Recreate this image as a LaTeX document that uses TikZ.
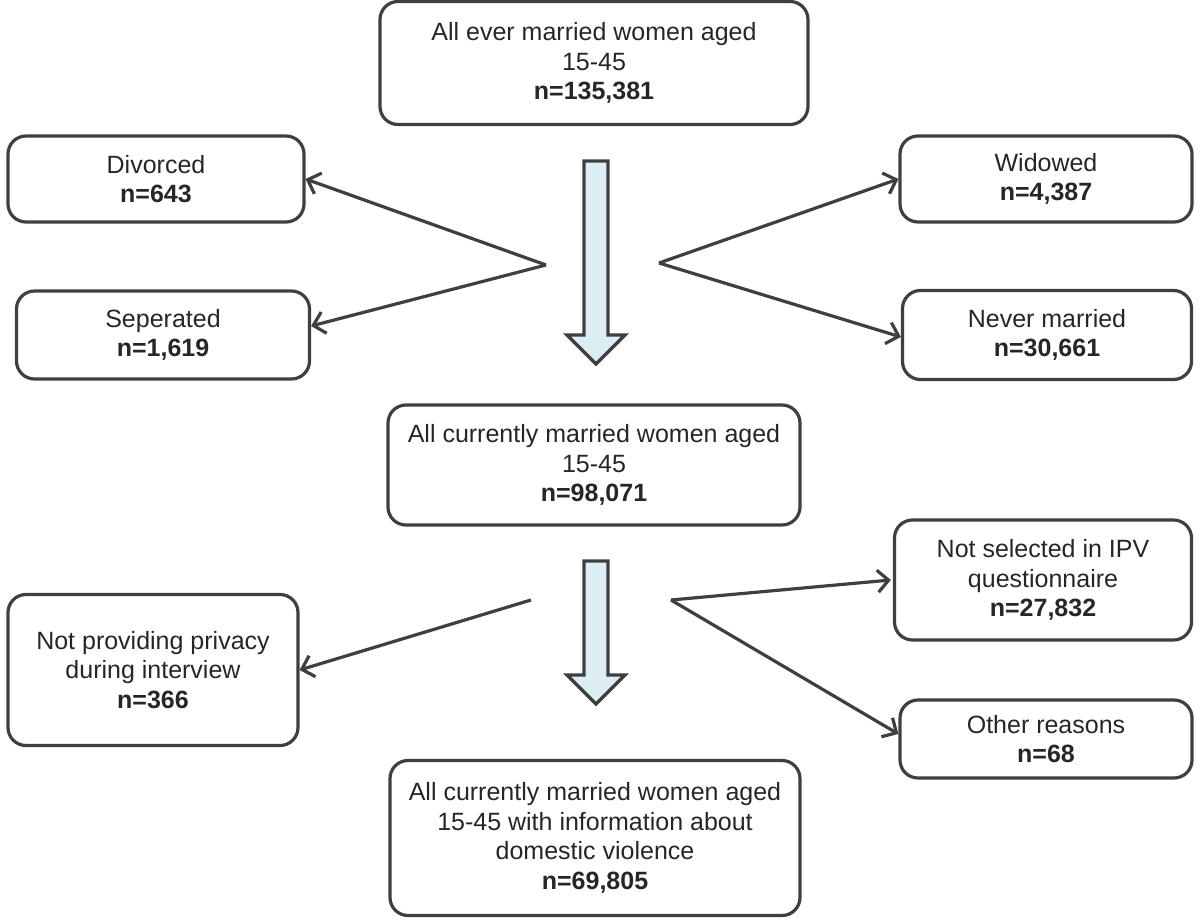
\documentclass[tikz,border=0pt]{standalone}
\usepackage{fontspec}
\setmainfont{Liberation Sans}
\usetikzlibrary{arrows.meta,calc}
\definecolor{ln}{HTML}{3F3F3F}
\definecolor{blk}{HTML}{DCEDF4}
\tikzset{
  box/.style={draw=ln, line width=3.2pt, rounded corners=18pt, align=center,
    font=\fontsize{25}{29.5}\selectfont, text=black!85, inner sep=0pt},
  conn/.style={draw=ln, line width=3.2pt, -{Straight Barb[length=11pt,width=22pt]}},
  bigarrow/.style={draw=ln, line width=3.2pt, fill=blk, line join=miter}
}
\begin{document}
\begin{tikzpicture}[x=1pt,y=-1pt]
\useasboundingbox (0,0) rectangle (1200,920);
\node[box, minimum width=428pt, minimum height=123pt] (top) at (594,63)
  {All ever married women aged\\15-45\\\textbf{n=135,381}};
\node[box, minimum width=296pt, minimum height=86pt] (div) at (156,179)
  {Divorced\\\textbf{n=643}};
\node[box, minimum width=292pt, minimum height=86pt] (wid) at (1046,179)
  {Widowed\\\textbf{n=4,387}};
\node[box, minimum width=293pt, minimum height=88pt] (sep) at (163,335)
  {Seperated\\\textbf{n=1,619}};
\node[box, minimum width=289pt, minimum height=89pt] (nev) at (1047,335)
  {Never married\\\textbf{n=30,661}};
\node[box, minimum width=412pt, minimum height=120pt] (mid) at (594,465)
  {All currently married women aged\\15-45\\\textbf{n=98,071}};
\node[box, minimum width=290pt, minimum height=151pt] (priv) at (153,670)
  {Not providing privacy\\during interview\\\textbf{n=366}};
\node[box, minimum width=297pt, minimum height=120pt] (sel) at (1043,580)
  {Not selected in IPV\\questionnaire\\\textbf{n=27,832}};
\node[box, minimum width=292pt, minimum height=78pt] (oth) at (1046,739)
  {Other reasons\\\textbf{n=68}};
\node[box, minimum width=410pt, minimum height=155pt] (bot) at (595,838)
  {All currently married women aged\\15-45 with information about\\domestic violence\\\textbf{n=69,805}};

% block arrows
\draw[bigarrow] (584,161) -- (608,161) -- (608,335) -- (625,335) -- (596,364) -- (567,335) -- (584,335) -- cycle;
\draw[bigarrow] (584,561) -- (608,561) -- (608,675) -- (625,675) -- (596,704) -- (567,675) -- (584,675) -- cycle;

% connectors
\coordinate (a1) at (546,265);
\coordinate (a2) at (659,263);
\coordinate (a3) at (531,600);
\coordinate (a4) at (671,600);
\draw[conn] (a1) -- (div.east);
\draw[conn] (a1) -- ([yshift=9pt]sep.east);
\draw[conn] (a2) -- (wid.west);
\draw[conn] (a2) -- ([yshift=-2pt]nev.west);
\draw[conn] (a3) -- (priv.east);
\draw[conn] (a4) -- ([xshift=-2pt]sel.west);
\draw[conn] (a4) -- ([yshift=5pt]oth.west);
\end{tikzpicture}
\end{document}
